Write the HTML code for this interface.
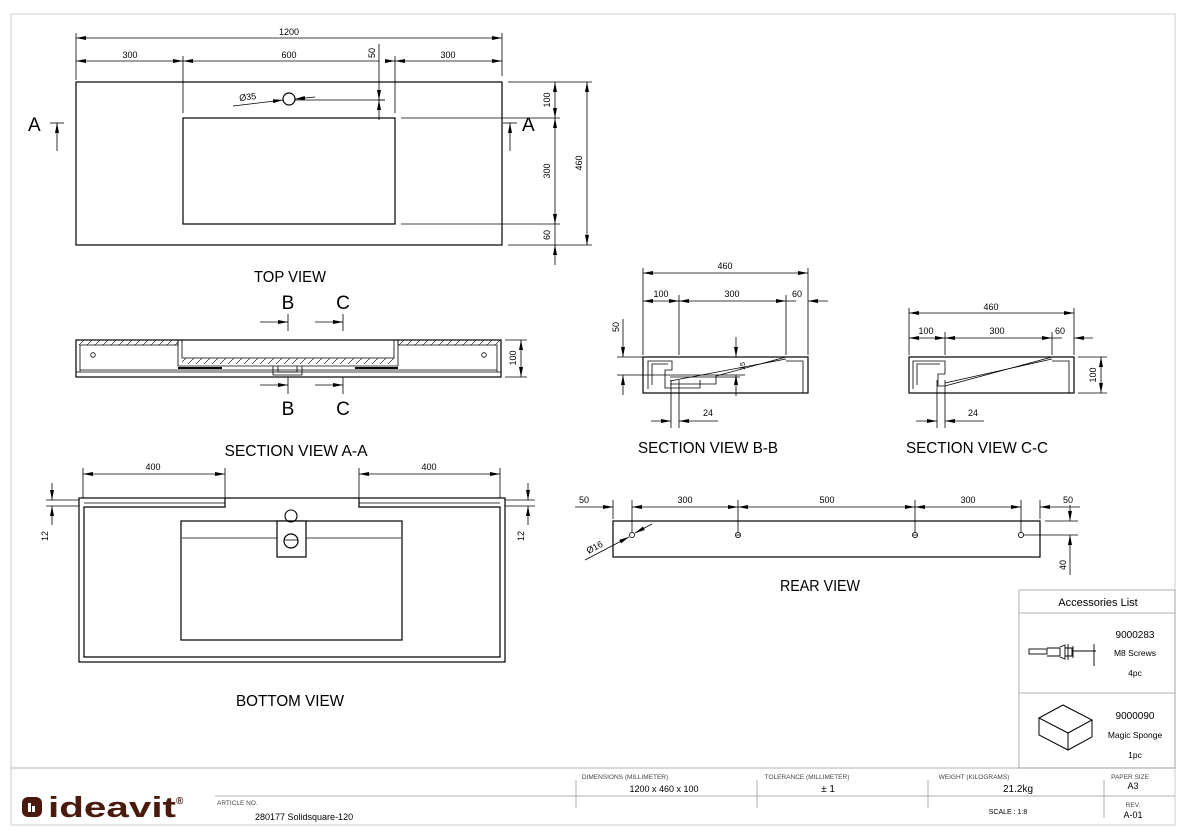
<!DOCTYPE html>
<html><head><meta charset="utf-8"><style>
html,body{margin:0;padding:0;background:#fff}
svg{display:block}
text{font-family:"Liberation Sans",sans-serif;fill:#000}
.t{font-size:9px}
.v{font-size:16px}
.s{font-size:6.5px;fill:#444}
</style></head><body>
<svg width="1186" height="835" viewBox="0 0 1186 835" xmlns="http://www.w3.org/2000/svg">
<defs>
<marker id="a" viewBox="0 0 10 4" refX="10" refY="2" markerWidth="10" markerHeight="4" markerUnits="userSpaceOnUse" orient="auto-start-reverse"><path d="M0,0L10,2L0,4z" fill="#000"/></marker>
<pattern id="h" width="8" height="8" patternUnits="userSpaceOnUse"><path d="M0,8L8,0" stroke="#000" stroke-width="0.6"/></pattern>
</defs>
<!-- frame -->
<rect x="11" y="14" width="1164" height="811" fill="none" stroke="#ccc" stroke-width="1"/>
<g fill="none" stroke="#000" stroke-width="0.8">
<!-- TOP VIEW -->
<rect x="76" y="82" width="426" height="163" stroke-width="1.2"/>
<rect x="183" y="118" width="212" height="106" stroke-width="1.2"/>
<line x1="401" y1="118" x2="560" y2="118"/><line x1="401" y1="224" x2="560" y2="224"/>
<line x1="508" y1="82" x2="592" y2="82"/><line x1="508" y1="245" x2="592" y2="245"/>
<line x1="76" y1="33" x2="76" y2="80"/><line x1="502" y1="33" x2="502" y2="76"/>
<line x1="183" y1="56" x2="183" y2="113"/><line x1="395" y1="56" x2="395" y2="113"/>
<line x1="76" y1="38" x2="502" y2="38" marker-start="url(#a)" marker-end="url(#a)"/>
<line x1="76" y1="61" x2="183" y2="61" marker-start="url(#a)" marker-end="url(#a)"/>
<line x1="183" y1="61" x2="379" y2="61" marker-start="url(#a)"/>
<line x1="385" y1="61" x2="395" y2="61" marker-end="url(#a)"/>
<line x1="395" y1="61" x2="502" y2="61" marker-start="url(#a)" marker-end="url(#a)"/>
<line x1="379" y1="44" x2="379" y2="100" marker-end="url(#a)"/>
<line x1="379" y1="120" x2="379" y2="100" marker-end="url(#a)"/>
<line x1="379" y1="100" x2="385" y2="100"/>
<circle cx="289" cy="99" r="6" stroke-width="1.2"/>
<line x1="233" y1="106" x2="283" y2="100" marker-end="url(#a)"/>
<line x1="315" y1="97" x2="295" y2="99" marker-end="url(#a)"/>
<line x1="295" y1="100" x2="385" y2="100"/>
<line x1="555" y1="82" x2="555" y2="118" marker-start="url(#a)" marker-end="url(#a)"/>
<line x1="555" y1="118" x2="555" y2="224" marker-start="url(#a)" marker-end="url(#a)"/>
<line x1="555" y1="265" x2="555" y2="245" marker-end="url(#a)"/>
<line x1="555" y1="224" x2="555" y2="245"/>
<line x1="587" y1="82" x2="587" y2="245" marker-start="url(#a)" marker-end="url(#a)"/>
<line x1="57" y1="151" x2="57" y2="123" marker-end="url(#a)"/><line x1="50" y1="123" x2="64" y2="123"/>
<line x1="510" y1="151" x2="510" y2="123" marker-end="url(#a)"/><line x1="503" y1="123" x2="517" y2="123"/>

<!-- SECTION A-A -->
<rect x="76" y="340" width="425" height="37" stroke-width="1.2"/>
<rect x="77" y="340" width="101" height="5" fill="url(#h)" stroke="none"/>
<rect x="398" y="340" width="103" height="5" fill="url(#h)" stroke="none"/>
<path d="M80,372V345H178V340M398,340V345H497V372"/>
<path d="M178,340V366H398V340"/>
<path d="M182,340V358H394V340"/>
<rect x="182" y="358" width="212" height="6" fill="url(#h)" stroke="none"/>
<line x1="80" y1="370" x2="497" y2="370"/>
<line x1="76" y1="372" x2="501" y2="372"/>
<path d="M178,368H222M355,368H398" stroke-width="2"/>
<path d="M273,366V375H302V366M278,366V372H297V366"/>
<circle cx="93" cy="355" r="2.3"/><circle cx="484" cy="355" r="2.3"/>
<line x1="260" y1="322" x2="288" y2="322" marker-end="url(#a)"/><line x1="288" y1="314" x2="288" y2="331"/>
<line x1="315" y1="322" x2="343" y2="322" marker-end="url(#a)"/><line x1="343" y1="314" x2="343" y2="331"/>
<line x1="260" y1="385" x2="288" y2="385" marker-end="url(#a)"/><line x1="288" y1="377" x2="288" y2="394"/>
<line x1="315" y1="385" x2="343" y2="385" marker-end="url(#a)"/><line x1="343" y1="377" x2="343" y2="394"/>
<line x1="505" y1="340" x2="527" y2="340"/><line x1="505" y1="377" x2="527" y2="377"/>
<line x1="521" y1="340" x2="521" y2="377" marker-start="url(#a)" marker-end="url(#a)"/>

<!-- SECTION B-B -->
<rect x="643" y="357" width="165" height="36" stroke-width="1.2"/>
<path d="M648,389V361H672V370H665V388H700V380"/>
<path d="M652,385V364H668"/>
<path d="M670,384H716V376L786,357"/>
<path d="M670,381L786,359" />
<path d="M786,361H803V393"/>
<path d="M670,377H740"/>
<line x1="643" y1="268" x2="643" y2="355"/><line x1="808" y1="268" x2="808" y2="355"/>
<line x1="679" y1="295" x2="679" y2="355"/><line x1="786" y1="295" x2="786" y2="355"/>
<line x1="643" y1="273" x2="808" y2="273" marker-start="url(#a)" marker-end="url(#a)"/>
<line x1="643" y1="301" x2="679" y2="301" marker-start="url(#a)" marker-end="url(#a)"/>
<line x1="679" y1="301" x2="786" y2="301" marker-start="url(#a)" marker-end="url(#a)"/>
<line x1="808" y1="301" x2="828" y2="301" marker-start="url(#a)"/><line x1="786" y1="301" x2="796" y2="301"/>
<line x1="617" y1="357" x2="643" y2="357"/><line x1="617" y1="375" x2="745" y2="375"/>
<line x1="623" y1="319" x2="623" y2="357" marker-end="url(#a)"/>
<line x1="623" y1="395" x2="623" y2="375" marker-end="url(#a)"/>
<line x1="736" y1="337" x2="736" y2="357" marker-end="url(#a)"/>
<line x1="736" y1="396" x2="736" y2="375" marker-end="url(#a)"/>
<line x1="671" y1="380" x2="671" y2="428"/><line x1="679" y1="380" x2="679" y2="428"/>
<line x1="651" y1="421" x2="671" y2="421" marker-end="url(#a)"/>
<line x1="718" y1="421" x2="679" y2="421" marker-end="url(#a)"/>

<!-- SECTION C-C -->
<rect x="909" y="357" width="165" height="36" stroke-width="1.2"/>
<path d="M913,389V361H945V374H938V386H945L1052,357"/>
<path d="M917,385V364H940"/>
<path d="M945,383L1052,359"/>
<path d="M1052,361H1069V393"/>
<line x1="909" y1="308" x2="909" y2="355"/><line x1="1074" y1="308" x2="1074" y2="355"/>
<line x1="945" y1="332" x2="945" y2="355"/><line x1="1052" y1="332" x2="1052" y2="355"/>
<line x1="909" y1="313" x2="1074" y2="313" marker-start="url(#a)" marker-end="url(#a)"/>
<line x1="909" y1="338" x2="945" y2="338" marker-start="url(#a)" marker-end="url(#a)"/>
<line x1="945" y1="338" x2="1052" y2="338" marker-start="url(#a)" marker-end="url(#a)"/>
<line x1="1074" y1="338" x2="1093" y2="338" marker-start="url(#a)"/><line x1="1052" y1="338" x2="1062" y2="338"/>
<line x1="1078" y1="357" x2="1107" y2="357"/><line x1="1078" y1="393" x2="1107" y2="393"/>
<line x1="1101" y1="357" x2="1101" y2="393" marker-start="url(#a)" marker-end="url(#a)"/>
<line x1="937" y1="380" x2="937" y2="428"/><line x1="945" y1="380" x2="945" y2="428"/>
<line x1="916" y1="421" x2="937" y2="421" marker-end="url(#a)"/>
<line x1="984" y1="421" x2="945" y2="421" marker-end="url(#a)"/>

<!-- BOTTOM VIEW -->
<rect x="79" y="498" width="426" height="164" stroke-width="1.2"/>
<path d="M225,498V507H84V657H500V507H359V498" stroke-width="1.2"/>
<line x1="84" y1="503" x2="225" y2="503"/><line x1="359" y1="503" x2="500" y2="503"/>
<rect x="181" y="521" width="221" height="119" stroke-width="1.2"/>
<line x1="182" y1="538" x2="401" y2="538"/>
<rect x="277" y="521" width="29" height="36" fill="#fff" stroke-width="1.2"/>
<circle cx="291" cy="541" r="7" stroke-width="1.2"/><line x1="284" y1="540" x2="298" y2="540"/>
<circle cx="291" cy="516" r="6" stroke-width="1.1"/>
<line x1="83" y1="468" x2="83" y2="498"/><line x1="225" y1="468" x2="225" y2="498"/>
<line x1="359" y1="468" x2="359" y2="498"/><line x1="500" y1="468" x2="500" y2="498"/>
<line x1="83" y1="474" x2="225" y2="474" marker-start="url(#a)" marker-end="url(#a)"/>
<line x1="359" y1="474" x2="500" y2="474" marker-start="url(#a)" marker-end="url(#a)"/>
<line x1="46" y1="500" x2="79" y2="500"/><line x1="46" y1="506" x2="79" y2="506"/>
<line x1="52" y1="483" x2="52" y2="500" marker-end="url(#a)"/><line x1="52" y1="525" x2="52" y2="506" marker-end="url(#a)"/>
<line x1="505" y1="500" x2="535" y2="500"/><line x1="505" y1="506" x2="535" y2="506"/>
<line x1="528" y1="483" x2="528" y2="500" marker-end="url(#a)"/><line x1="528" y1="525" x2="528" y2="506" marker-end="url(#a)"/>

<!-- REAR VIEW -->
<rect x="613" y="521" width="427" height="36" stroke-width="1.2"/>
<circle cx="632" cy="535" r="2.6"/><circle cx="738" cy="535" r="2.6"/><circle cx="915" cy="535" r="2.6"/><circle cx="1021" cy="535" r="2.6"/>
<line x1="736" y1="535" x2="740" y2="535"/><line x1="913" y1="535" x2="917" y2="535"/>
<line x1="613" y1="500" x2="613" y2="519"/><line x1="1040" y1="500" x2="1040" y2="519"/>
<line x1="632" y1="500" x2="632" y2="533"/><line x1="738" y1="500" x2="738" y2="533"/>
<line x1="915" y1="500" x2="915" y2="533"/><line x1="1021" y1="500" x2="1021" y2="533"/>
<line x1="575" y1="507" x2="613" y2="507" marker-end="url(#a)"/>
<line x1="632" y1="507" x2="738" y2="507" marker-start="url(#a)" marker-end="url(#a)"/>
<line x1="738" y1="507" x2="915" y2="507" marker-start="url(#a)" marker-end="url(#a)"/>
<line x1="915" y1="507" x2="1021" y2="507" marker-start="url(#a)" marker-end="url(#a)"/>
<line x1="1080" y1="507" x2="1040" y2="507" marker-end="url(#a)"/>
<line x1="1024" y1="535" x2="1078" y2="535"/><line x1="1045" y1="521" x2="1078" y2="521"/>
<line x1="1070" y1="505" x2="1070" y2="521" marker-end="url(#a)"/>
<line x1="1070" y1="575" x2="1070" y2="535" marker-end="url(#a)"/>
<line x1="585" y1="560" x2="629" y2="537" marker-end="url(#a)"/>
<line x1="652" y1="524" x2="635" y2="533" marker-end="url(#a)"/>

<!-- accessories -->
<rect x="1019" y="590" width="156" height="178" stroke="#999"/>
<line x1="1019" y1="613" x2="1175" y2="613" stroke="#999"/>
<line x1="1019" y1="693" x2="1175" y2="693" stroke="#999"/>
<g stroke-width="0.9">
<rect x="1029" y="649" width="18" height="5"/>
<path d="M1047,648H1060V656H1047M1060,647L1065,645V659L1060,657M1065,648H1072V656H1065M1072,651H1096"/>
<line x1="1068" y1="644" x2="1068" y2="660"/><line x1="1073" y1="646" x2="1073" y2="658"/>
<line x1="1094" y1="644" x2="1094" y2="666"/>
</g>
<path d="M1039,718L1063,705L1092,720L1068,733Z M1039,718V735L1068,750L1092,737V720 M1068,733V750" stroke-width="1"/>

<!-- title block -->
<line x1="11" y1="768" x2="1175" y2="768" stroke="#999"/>
<line x1="215" y1="796" x2="1175" y2="796" stroke="#999"/>
<line x1="576" y1="780" x2="576" y2="808" stroke="#999"/>
<line x1="757" y1="780" x2="757" y2="808" stroke="#999"/>
<line x1="928" y1="780" x2="928" y2="808" stroke="#999"/>
<line x1="1104" y1="780" x2="1104" y2="818" stroke="#999"/>
</g>

<!-- texts -->
<g class="t" text-anchor="middle">
<text x="289" y="35">1200</text>
<text x="130" y="58">300</text><text x="289" y="58">600</text><text x="448" y="58">300</text>
<text transform="translate(375,53) rotate(-90)">50</text>
<text transform="translate(248,100) rotate(-7)">Ø35</text>
<text transform="translate(550,100) rotate(-90)">100</text>
<text transform="translate(550,171) rotate(-90)">300</text>
<text transform="translate(550,235) rotate(-90)">60</text>
<text transform="translate(582,163) rotate(-90)">460</text>
<text transform="translate(516,358) rotate(-90)">100</text>
<text x="725" y="269">460</text>
<text x="661" y="297">100</text><text x="732" y="297">300</text><text x="797" y="297">60</text>
<text transform="translate(619,327) rotate(-90)">50</text>
<text transform="translate(745,366) rotate(-90)" style="font-size:7px">15</text>
<text x="708" y="416">24</text>
<text x="991" y="310">460</text>
<text x="926" y="334">100</text><text x="997" y="334">300</text><text x="1060" y="334">60</text>
<text transform="translate(1096,375) rotate(-90)">100</text>
<text x="973" y="416">24</text>
<text x="153" y="470">400</text><text x="429" y="470">400</text>
<text transform="translate(48,536) rotate(-90)">12</text>
<text transform="translate(524,536) rotate(-90)">12</text>
<text x="584" y="503">50</text><text x="685" y="503">300</text><text x="827" y="503">500</text><text x="968" y="503">300</text><text x="1068" y="503">50</text>
<text transform="translate(1066,565) rotate(-90)">40</text>
<text transform="translate(596,550) rotate(-28)">Ø16</text>
</g>
<text x="28" y="131" font-size="19">A</text>
<text x="522" y="131" font-size="19">A</text>
<g font-size="19" text-anchor="middle"><text x="288" y="309">B</text><text x="343" y="309">C</text><text x="288" y="415">B</text><text x="343" y="415">C</text></g>
<g class="v" text-anchor="middle">
<text x="290" y="282" textLength="72" lengthAdjust="spacingAndGlyphs">TOP VIEW</text>
<text x="296" y="456" textLength="143" lengthAdjust="spacingAndGlyphs">SECTION  VIEW A-A</text>
<text x="708" y="453" textLength="140" lengthAdjust="spacingAndGlyphs">SECTION  VIEW B-B</text>
<text x="977" y="453" textLength="142" lengthAdjust="spacingAndGlyphs">SECTION  VIEW C-C</text>
<text x="290" y="706" textLength="108" lengthAdjust="spacingAndGlyphs">BOTTOM VIEW</text>
<text x="820" y="591" textLength="80" lengthAdjust="spacingAndGlyphs">REAR VIEW</text>
</g>
<g text-anchor="middle">
<text x="1098" y="606" font-size="11">Accessories List</text>
<text x="1135" y="638" font-size="10">9000283</text>
<text x="1135" y="656" font-size="8.5">M8 Screws</text>
<text x="1135" y="676" font-size="8.5">4pc</text>
<text x="1135" y="719" font-size="10">9000090</text>
<text x="1135" y="738" font-size="8.5">Magic Sponge</text>
<text x="1135" y="758" font-size="8.5">1pc</text>
<text class="s" x="625" y="779">DIMENSIONS (MILLIMETER)</text>
<text x="664" y="792" font-size="9">1200 x 460 x 100</text>
<text class="s" x="807" y="779">TOLERANCE (MILLIMETER)</text>
<text x="828" y="792" font-size="10">± 1</text>
<text class="s" x="974" y="779">WEIGHT (KILOGRAMS)</text>
<text x="1018" y="792" font-size="10">21.2kg</text>
<text class="s" x="1130" y="779">PAPER SIZE</text>
<text x="1133" y="789" font-size="9">A3</text>
<text x="1008" y="814" font-size="7" fill="#333">SCALE : 1:8</text>
<text class="s" x="1133" y="807">REV.</text>
<text x="1133" y="818" font-size="9">A-01</text>
</g>
<text class="s" x="217" y="805">ARTICLE NO.</text>
<text x="255" y="820" font-size="9">280177 Solidsquare-120</text>
<!-- logo -->
<rect x="22" y="797" width="20" height="20" rx="6" fill="#4a1a0c"/>
<rect x="28" y="803" width="3" height="9" fill="#fff"/><rect x="32" y="806" width="3" height="6" fill="#fff"/>
<text x="48" y="817" font-size="29" font-weight="bold" fill="#4a1a0c" style="fill:#4a1a0c" textLength="128" lengthAdjust="spacingAndGlyphs">ideavit</text>
<text x="176" y="804" font-size="10" font-weight="bold" style="fill:#4a1a0c">®</text>
</svg>
</body></html>
